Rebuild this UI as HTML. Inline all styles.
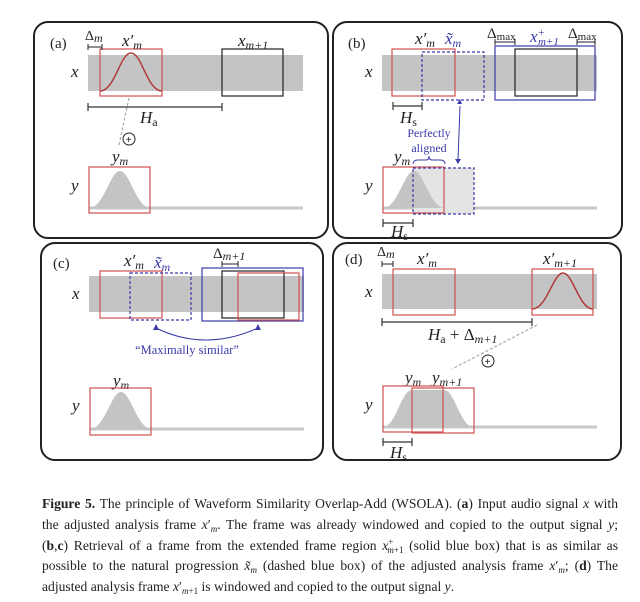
<!DOCTYPE html>
<html><head><meta charset="utf-8"><style>
html,body{margin:0;padding:0;background:#fff;width:640px;height:602px;overflow:hidden}
svg{display:block}
.m{font-family:"Liberation Serif",serif;font-style:italic;font-size:17px;fill:#222}
.u{font-style:normal}
.s{font-family:"Liberation Serif",serif;font-size:11px;fill:#222}
.lb{font-family:"Liberation Serif",serif;font-size:15px;fill:#222}
.cap{position:absolute;left:42px;top:494px;width:576px;font-family:"Liberation Serif",serif;font-size:13.6px;color:#222}
.cap div{height:20.8px;line-height:20.8px;text-align:justify;text-align-last:justify;white-space:nowrap;overflow:visible}
.cap div.l{text-align-last:left}
.sb{font-size:9px;position:relative;top:3px;line-height:0}
.sp{font-size:9px;position:relative;top:-5px;line-height:0}
</style></head><body>
<svg width="640" height="602" viewBox="0 0 640 602" xmlns="http://www.w3.org/2000/svg">
<g fill="none" stroke="#222" stroke-width="2">
<rect x="34" y="22" width="294" height="216" rx="14"/>
<rect x="333" y="22" width="289" height="216" rx="14"/>
<rect x="41" y="243" width="282" height="217" rx="14"/>
<rect x="333" y="243" width="288" height="217" rx="14"/>
</g>
<!-- Panel a -->
<rect x="88" y="55" width="215" height="36" fill="#c4c4c4"/>
<path d="M100,91 C115,91 120,53 131,53 C142,53 147,91 162,91" fill="none" stroke="#b03a3a" stroke-width="1.5"/>
<rect x="100" y="49" width="62" height="47" fill="none" stroke="#d05050" stroke-width="1.2"/>
<rect x="222" y="49" width="61" height="47" fill="none" stroke="#222" stroke-width="1.2"/>
<text x="50" y="48" class="lb">(a)</text>
<path d="M88,44v6M88,47h14M102,44v6" stroke="#222" stroke-width="1"/>
<text x="85" y="40" class="m" style="font-size:14px"><tspan class="u">Δ</tspan><tspan font-size="12" dy="2">m</tspan></text>
<text x="122" y="46" class="m">x′<tspan font-size="12" dy="3">m</tspan></text>
<text x="238" y="46" class="m">x<tspan font-size="12" dy="3">m+1</tspan></text>
<text x="71" y="77" class="m">x</text>
<path d="M88,103v8M88,107h134M222,103v8" stroke="#333" stroke-width="1.2"/>
<text x="140" y="123" class="m">H<tspan class="u" font-size="12" dy="3">a</tspan></text>
<path d="M129,98 L119,145" stroke="#aaa" stroke-dasharray="3,2" stroke-width="1.2"/>
<circle cx="129" cy="139" r="6" fill="none" stroke="#222"/><text x="125.5" y="143" class="s" font-weight="bold">+</text>
<text x="112" y="162" class="m">y<tspan font-size="12" dy="3">m</tspan></text>
<path d="M89,208 L303,208" stroke="#c8c8c8" stroke-width="3"/>
<path d="M89,208 C104,208 110,171 120,171 C130,171 136,208 151,208Z" fill="#c4c4c4"/>
<rect x="89" y="167" width="61" height="46" fill="none" stroke="#d05050" stroke-width="1.2"/>
<text x="71" y="191" class="m">y</text>
<!-- Panel b -->
<rect x="382" y="55" width="215" height="36" fill="#c4c4c4"/>
<rect x="392" y="49" width="63" height="47" fill="none" stroke="#d05050" stroke-width="1.2"/>
<rect x="422" y="52" width="62" height="48" fill="none" stroke="#3a3aa8" stroke-width="1.2" stroke-dasharray="3,2"/>
<rect x="495" y="46" width="100" height="54" fill="none" stroke="#3a3aa8" stroke-width="1.2"/>
<rect x="515" y="49" width="62" height="47" fill="none" stroke="#222" stroke-width="1.2"/>
<text x="348" y="48" class="lb">(b)</text>
<text x="415" y="44" class="m">x′<tspan font-size="12" dy="3">m</tspan></text>
<text x="445" y="44" class="m" style="fill:#3a3aa8">x̃<tspan font-size="12" dy="3">m</tspan></text>
<text x="487" y="38" class="m" style="font-size:15px"><tspan class="u">Δ</tspan><tspan class="u" font-size="11" dy="2">max</tspan></text>
<path d="M495,39v6M495,42h20M515,39v6" stroke="#222"/>
<text x="530" y="42" class="m" style="fill:#3a3aa8">x<tspan font-size="11" dy="-6">+</tspan><tspan font-size="11" dx="-7" dy="9">m+1</tspan></text>
<text x="568" y="38" class="m" style="font-size:15px"><tspan class="u">Δ</tspan><tspan class="u" font-size="11" dy="2">max</tspan></text>
<path d="M577,39v6M577,42h18M595,39v6" stroke="#222"/>
<text x="365" y="77" class="m">x</text>
<path d="M393,102v8M393,106h29M422,102v8" stroke="#333" stroke-width="1.2"/>
<text x="400" y="123" class="m">H<tspan class="u" font-size="12" dy="3">s</tspan></text>
<path d="M460,106 L458,160" stroke="#3a3aa8" stroke-width="1"/>
<path d="M457,104l3,-5l2,5zM455,159l3,5l3,-5z" fill="#3a3aa8"/>
<text x="429" y="137" class="s" text-anchor="middle" style="font-size:12px;fill:#3a3aa8">Perfectly</text>
<text x="429" y="152" class="s" text-anchor="middle" style="font-size:12px;fill:#3a3aa8">aligned</text>
<path d="M413,164 q0,-4 5,-4 h8 q3,0 3,-4 q0,4 3,4 h8 q5,0 5,4" fill="none" stroke="#3a3aa8" stroke-width="1"/>
<text x="394" y="162" class="m">y<tspan font-size="12" dy="3">m</tspan></text>
<path d="M383,208 L597,208" stroke="#c8c8c8" stroke-width="3"/>
<rect x="413" y="168" width="61" height="46" fill="#e4e4e4"/>
<path d="M383,208 C398,208 404,171 414,171 C424,171 430,208 445,208Z" fill="#c4c4c4"/>
<rect x="383" y="167" width="61" height="46" fill="none" stroke="#d05050" stroke-width="1.2"/>
<rect x="413" y="168" width="61" height="46" fill="none" stroke="#3a3aa8" stroke-width="1.2" stroke-dasharray="3,2"/>
<text x="365" y="191" class="m">y</text>
<path d="M383,219v8M383,223h30M413,219v8" stroke="#333" stroke-width="1.2"/>
<text x="391" y="237" class="m">H<tspan class="u" font-size="12" dy="3">s</tspan></text>
<!-- Panel c -->
<rect x="89" y="276" width="215" height="36" fill="#c4c4c4"/>
<rect x="100" y="271" width="62" height="47" fill="none" stroke="#d05050" stroke-width="1.2"/>
<rect x="130" y="273" width="61" height="47" fill="none" stroke="#3a3aa8" stroke-width="1.2" stroke-dasharray="3,2"/>
<rect x="202" y="268" width="101" height="53" fill="none" stroke="#3a3aa8" stroke-width="1.2"/>
<rect x="222" y="271" width="62" height="47" fill="none" stroke="#222" stroke-width="1.2"/>
<rect x="238" y="273" width="61" height="47" fill="none" stroke="#d05050" stroke-width="1.2"/>
<text x="53" y="268" class="lb">(c)</text>
<text x="124" y="266" class="m">x′<tspan font-size="12" dy="3">m</tspan></text>
<text x="154" y="268" class="m" style="fill:#3a3aa8">x̃<tspan font-size="12" dy="3">m</tspan></text>
<text x="213" y="258" class="m" style="font-size:15px"><tspan class="u">Δ</tspan><tspan font-size="12" dy="2">m+1</tspan></text>
<path d="M222,261v6M222,264h16M238,261v6" stroke="#222"/>
<text x="72" y="299" class="m">x</text>
<path d="M156,328 Q205,352 258,328" fill="none" stroke="#3a3aa8" stroke-width="1.1"/>
<path d="M153,330l3,-6l3,6zM255,330l3,-6l3,6z" fill="#3a3aa8"/>
<text x="187" y="354" text-anchor="middle" class="s" style="font-size:12.5px;fill:#3a3aa8">“Maximally similar”</text>
<text x="113" y="386" class="m">y<tspan font-size="12" dy="3">m</tspan></text>
<path d="M90,429 L304,429" stroke="#c8c8c8" stroke-width="3"/>
<path d="M90,429 C105,429 111,392 121,392 C131,392 137,429 152,429Z" fill="#c4c4c4"/>
<rect x="90" y="388" width="61" height="47" fill="none" stroke="#d05050" stroke-width="1.2"/>
<text x="72" y="411" class="m">y</text>
<!-- Panel d -->
<rect x="382" y="274" width="215" height="35" fill="#c4c4c4"/>
<rect x="393" y="269" width="62" height="46" fill="none" stroke="#d05050" stroke-width="1.2"/>
<path d="M532,309 C547,309 553,273 563,273 C573,273 579,309 593,309" fill="none" stroke="#b03a3a" stroke-width="1.5"/>
<rect x="532" y="269" width="61" height="46" fill="none" stroke="#d05050" stroke-width="1.2"/>
<text x="345" y="264" class="lb">(d)</text>
<text x="377" y="256" class="m" style="font-size:14px"><tspan class="u">Δ</tspan><tspan font-size="12" dy="2">m</tspan></text>
<path d="M382,261v6M382,264h11M393,261v6" stroke="#222"/>
<text x="417" y="264" class="m">x′<tspan font-size="12" dy="3">m</tspan></text>
<text x="543" y="264" class="m">x′<tspan font-size="12" dy="3">m+1</tspan></text>
<text x="365" y="297" class="m">x</text>
<path d="M382,318v8M382,322h150M532,318v8" stroke="#333" stroke-width="1.2"/>
<text x="428" y="340" class="m">H<tspan class="u" font-size="12" dy="3">a</tspan><tspan class="u" dy="-3"> + Δ</tspan><tspan font-size="12" dy="3">m+1</tspan></text>
<path d="M537,325 L452,369" stroke="#aaa" stroke-dasharray="3,2" stroke-width="1.2"/>
<circle cx="488" cy="361" r="6" fill="none" stroke="#222"/><text x="484.5" y="365" class="s" font-weight="bold">+</text>
<text x="405" y="383" class="m">y<tspan font-size="12" dy="3">m</tspan></text>
<text x="432" y="383" class="m">y<tspan font-size="12" dy="3">m+1</tspan></text>
<path d="M383,427 L597,427" stroke="#c8c8c8" stroke-width="3"/>
<path d="M383,427 C396,427 401,390 412,390 L444,390 C455,390 460,427 474,427Z" fill="#c4c4c4"/>
<rect x="383" y="386" width="60" height="46" fill="none" stroke="#d05050" stroke-width="1.2"/>
<rect x="412" y="388" width="62" height="45" fill="none" stroke="#d05050" stroke-width="1.2"/>
<text x="365" y="410" class="m">y</text>
<path d="M383,438v8M383,442h29M412,438v8" stroke="#333" stroke-width="1.2"/>
<text x="390" y="458" class="m">H<tspan class="u" font-size="12" dy="3">s</tspan></text>
</svg>
<div class="cap">
<div><b>Figure 5.</b> The principle of Waveform Similarity Overlap-Add (WSOLA). (<b>a</b>) Input audio signal <i>x</i> with</div>
<div>the adjusted analysis frame <i>x</i>′<span class="sb"><i>m</i></span>. The frame was already windowed and copied to the output signal <i>y</i>;</div>
<div>(<b>b</b>,<b>c</b>) Retrieval of a frame from the extended frame region <i>x</i><span class="sp">+</span><span class="sb" style="margin-left:-6px"><i>m</i>+1</span> (solid blue box) that is as similar as</div>
<div>possible to the natural progression <i>x̃</i><span class="sb"><i>m</i></span> (dashed blue box) of the adjusted analysis frame <i>x</i>′<span class="sb"><i>m</i></span>; (<b>d</b>) The</div>
<div class="l">adjusted analysis frame <i>x</i>′<span class="sb"><i>m</i>+1</span> is windowed and copied to the output signal <i>y</i>.</div>
</div>
</body></html>
